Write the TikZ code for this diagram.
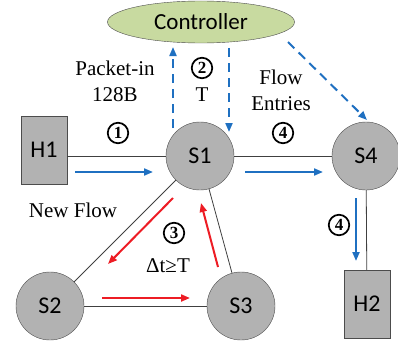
\documentclass[tikz,border=0pt]{standalone}
\usepackage{fontspec}
\setmainfont{Liberation Serif}
\newfontfamily\nodefont{Carlito}
\usetikzlibrary{shapes.geometric,arrows.meta}
\definecolor{flowblue}{RGB}{31,112,193}
\definecolor{flowred}{RGB}{237,28,36}
\definecolor{switchgray}{RGB}{178,178,178}
\definecolor{ctrlgreen}{RGB}{200,218,160}

\begin{document}
\begin{tikzpicture}[x=1pt,y=-1pt,>={Triangle[length=9pt,width=7pt]},
	switchnode/.style={circle,draw=black!70,fill=switchgray,minimum size=68pt,inner sep=0pt,font=\nodefont\fontsize{24}{24}\selectfont},
	hostnode/.style={rectangle,draw=black!70,fill=switchgray,minimum width=46pt,minimum height=68pt,inner sep=0pt,font=\nodefont\fontsize{24}{24}\selectfont},
	ctrlnode/.style={ellipse,draw=black!70,fill=ctrlgreen,minimum width=187pt,minimum height=42pt,inner sep=0pt,font=\nodefont\fontsize{23}{23}\selectfont},
	link/.style={-,draw=black!75,line width=0.8pt},
	blueflow/.style={->,draw=flowblue,line width=2pt},
	ctrlflow/.style={->,draw=flowblue,line width=2pt,dash pattern=on 9pt off 6pt},
	redflow/.style={->,draw=flowred,line width=2pt},
	lbl/.style={font=\fontsize{21}{26}\selectfont,align=center,inner sep=0pt},
	circnum/.style={circle,draw=black,line width=1.7pt,minimum size=20.5pt,inner sep=0pt,font=\bfseries\fontsize{17}{17}\selectfont}]
	
	\useasboundingbox (0,0) rectangle (398,345);
	
	% nodes
	\node [ctrlnode] (ctrl) at (201, 22) {Controller};
	\node [hostnode] (H1) at (44, 150) {H1};
	\node [switchnode] (S1) at (200, 156) {S1};
	\node [switchnode] (S4) at (366, 156) {S4};
	\node [switchnode] (S2) at (50, 306) {S2};
	\node [switchnode] (S3) at (241, 306) {S3};
	\node [hostnode] (H2) at (367, 304) {H2};
	
	% arrow ends
	\coordinate (a1s) at (75, 172);
	\coordinate (a1e) at (153, 172);
	\coordinate (a4s) at (245, 172);
	\coordinate (a4e) at (323, 172);
	\coordinate (b4s) at (356, 198);
	\coordinate (b4e) at (356, 261);
	\coordinate (ups) at (173, 128);
	\coordinate (upe) at (173, 47);
	\coordinate (dns) at (229, 48);
	\coordinate (dne) at (229, 132);
	\coordinate (cts) at (288, 42);
	\coordinate (cte) at (367, 120);
	\coordinate (r1s) at (173, 198);
	\coordinate (r1e) at (108, 264);
	\coordinate (r2s) at (102, 298);
	\coordinate (r2e) at (190, 298);
	\coordinate (r3s) at (218, 267);
	\coordinate (r3e) at (201, 203);
	
	% links
	\draw [link] (H1.east |- S1) to (S1);
	\draw [link] (S1) to (S4);
	\draw [link] (S4) to (H2);
	\draw [link] (S1) to (S2);
	\draw [link] (S1) to (S3);
	\draw [link] (S2) to (S3);
	
	% flows
	\draw [blueflow] (a1s) to (a1e);
	\draw [blueflow] (a4s) to (a4e);
	\draw [blueflow] (b4s) to (b4e);
	\draw [ctrlflow] (ups) to (upe);
	\draw [ctrlflow] (dns) to (dne);
	\draw [ctrlflow] (cts) to (cte);
	\draw [redflow] (r1s) to (r1e);
	\draw [redflow] (r2s) to (r2e);
	\draw [redflow] (r3s) to (r3e);
	
	% labels
	\node [lbl] (pktin) at (115, 81) {Packet-in\\128B};
	\node [lbl] (tlbl) at (202, 95) {T};
	\node [lbl] (fent) at (281, 90) {Flow\\Entries};
	\node [lbl] (newflow) at (73, 210) {New Flow};
	\node [lbl] (dtlbl) at (168, 266) {Δt≥T};
	\node [circnum] (c1) at (118, 133) {1};
	\node [circnum] (c2) at (202, 68) {2};
	\node [circnum] (c3) at (174, 233) {3};
	\node [circnum] (c4a) at (283, 133) {4};
	\node [circnum] (c4b) at (339, 225) {4};
\end{tikzpicture}
\end{document}
